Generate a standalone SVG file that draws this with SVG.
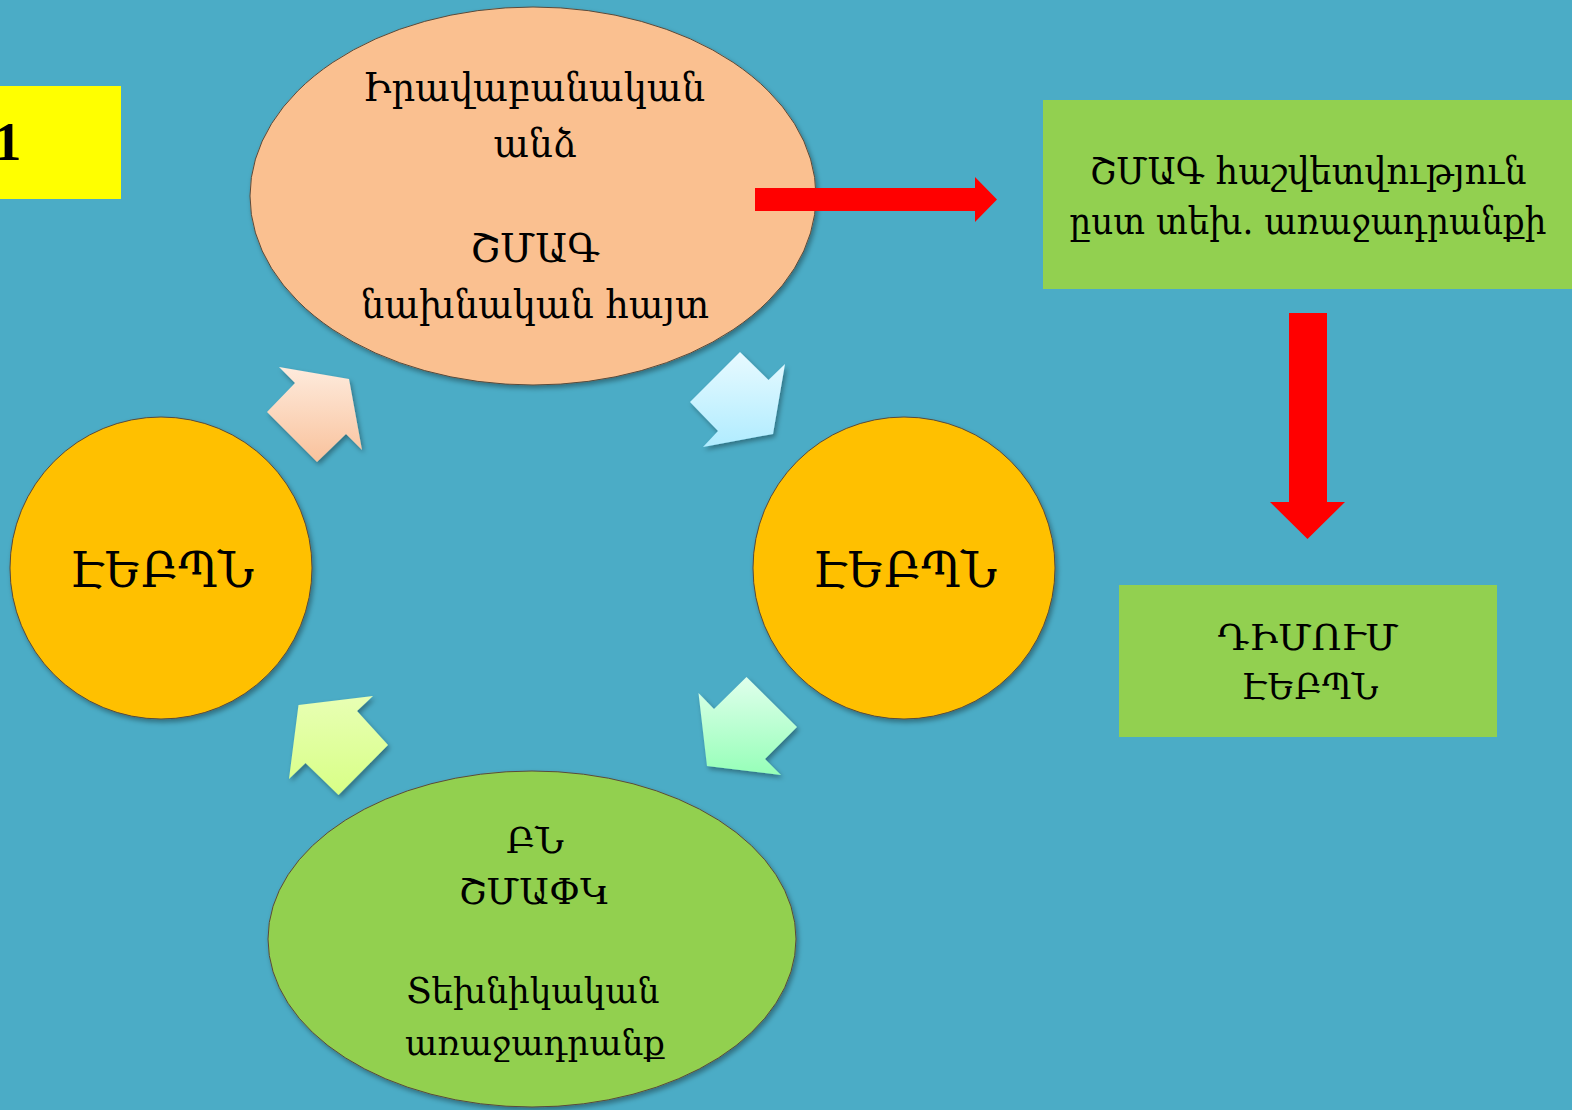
<svg xmlns="http://www.w3.org/2000/svg" width="1572" height="1110" viewBox="0 0 1572 1110">
<style>
.t{font-family:"DejaVu Serif","Noto Sans",serif;fill:#000;text-anchor:middle}
.node{stroke:#5a4a3a;stroke-width:1}
.red{fill:#FF0000}
</style>
<defs>
<filter id="sh" x="-10%" y="-10%" width="125%" height="125%">
<feDropShadow dx="2" dy="3" stdDeviation="2.5" flood-color="#000" flood-opacity="0.35"/>
</filter>
<linearGradient id="gPeach" x1="0" y1="0" x2="0" y2="1"><stop offset="0" stop-color="#FEEBDD"/><stop offset="1" stop-color="#F9C29C"/></linearGradient>
<linearGradient id="gBlue" x1="0" y1="0" x2="0" y2="1"><stop offset="0" stop-color="#E8FAFF"/><stop offset="1" stop-color="#B0ECFF"/></linearGradient>
<linearGradient id="gMint" x1="0" y1="0" x2="0" y2="1"><stop offset="0" stop-color="#E0FFEC"/><stop offset="1" stop-color="#96FFB8"/></linearGradient>
<linearGradient id="gLime" x1="0" y1="0" x2="0" y2="1"><stop offset="0" stop-color="#E8FFB4"/><stop offset="1" stop-color="#D8FF86"/></linearGradient>
</defs>
<rect x="0" y="0" width="1572" height="1110" fill="#4BACC6"/>

<g id="label-box">
<rect x="0" y="86" width="121" height="113" fill="#FFFF00"/>
<text x="-6" y="160" font-family="Liberation Serif, serif" font-weight="bold" font-size="55" fill="#000">1</text>
</g>

<g id="node-top">
<ellipse class="node" cx="533" cy="196" rx="283" ry="189" fill="#FAC090" filter="url(#sh)"/>
<text class="t" x="534" y="101" font-size="40" textLength="342" lengthAdjust="spacingAndGlyphs">Իրավաբանական</text>
<text class="t" x="535" y="157" font-size="40" textLength="83" lengthAdjust="spacingAndGlyphs">անձ</text>
<text class="t" x="535" y="262" font-size="40" textLength="130" lengthAdjust="spacingAndGlyphs">ՇՄԱԳ</text>
<text class="t" x="535" y="318" font-size="40" textLength="348" lengthAdjust="spacingAndGlyphs">նախնական հայտ</text>
</g>

<g id="node-left">
<circle class="node" cx="161" cy="568" r="151" fill="#FFC000" filter="url(#sh)"/>
<text class="t" x="162" y="587" font-size="48" textLength="184" lengthAdjust="spacingAndGlyphs">ԷԵԲՊՆ</text>
</g>

<g id="node-right">
<circle class="node" cx="904" cy="568" r="151" fill="#FFC000" filter="url(#sh)"/>
<text class="t" x="905" y="587" font-size="48" textLength="184" lengthAdjust="spacingAndGlyphs">ԷԵԲՊՆ</text>
</g>

<g id="node-bottom">
<ellipse class="node" cx="532" cy="939" rx="264" ry="168" fill="#92D050" filter="url(#sh)"/>
<text class="t" x="535" y="853" font-size="36" textLength="58" lengthAdjust="spacingAndGlyphs">ԲՆ</text>
<text class="t" x="534" y="904" font-size="36" textLength="151" lengthAdjust="spacingAndGlyphs">ՇՄԱՓԿ</text>
<text class="t" x="533" y="1003" font-size="36" textLength="253" lengthAdjust="spacingAndGlyphs">Տեխնիկական</text>
<text class="t" x="535" y="1055" font-size="36" textLength="260" lengthAdjust="spacingAndGlyphs">առաջադրանք</text>
</g>

<g id="node-report">
<rect x="1043" y="100" width="529" height="189" fill="#92D050"/>
<text class="t" x="1308" y="184" font-size="38" textLength="437" lengthAdjust="spacingAndGlyphs">ՇՄԱԳ հաշվետվություն</text>
<text class="t" x="1308" y="234" font-size="38" textLength="477" lengthAdjust="spacingAndGlyphs">ըստ տեխ. առաջադրանքի</text>
</g>

<g id="node-appeal">
<rect x="1119" y="585" width="378" height="152" fill="#92D050"/>
<text class="t" x="1308" y="650" font-size="36" textLength="181" lengthAdjust="spacingAndGlyphs">ԴԻՄՈՒՄ</text>
<text class="t" x="1310" y="699" font-size="36" textLength="137" lengthAdjust="spacingAndGlyphs">ԷԵԲՊՆ</text>
</g>

<g id="connectors">
<polygon class="red" points="755,188 975,188 975,177 997,199.5 975,222 975,211 755,211"/>
<polygon class="red" points="1289,313 1327,313 1327,502 1345,502 1307.5,539 1270,502 1289,502"/>
<g filter="url(#sh)">
<polygon fill="url(#gPeach)" points="279,367 349,379 362,450 346,434 317,462 267,412 295,383"/>
<polygon fill="url(#gBlue)" points="740,352 768.5,380 785,364 773,434 703,447 718,431 690,402"/>
<polygon fill="url(#gMint)" points="746.5,677 797,727 765,759 781,775 707,766 698.5,693 714,709"/>
<polygon fill="url(#gLime)" points="373,696 357,711 388,745 338.5,795 305.5,763 289,779 298.5,705"/>
</g>
</g>
</svg>
